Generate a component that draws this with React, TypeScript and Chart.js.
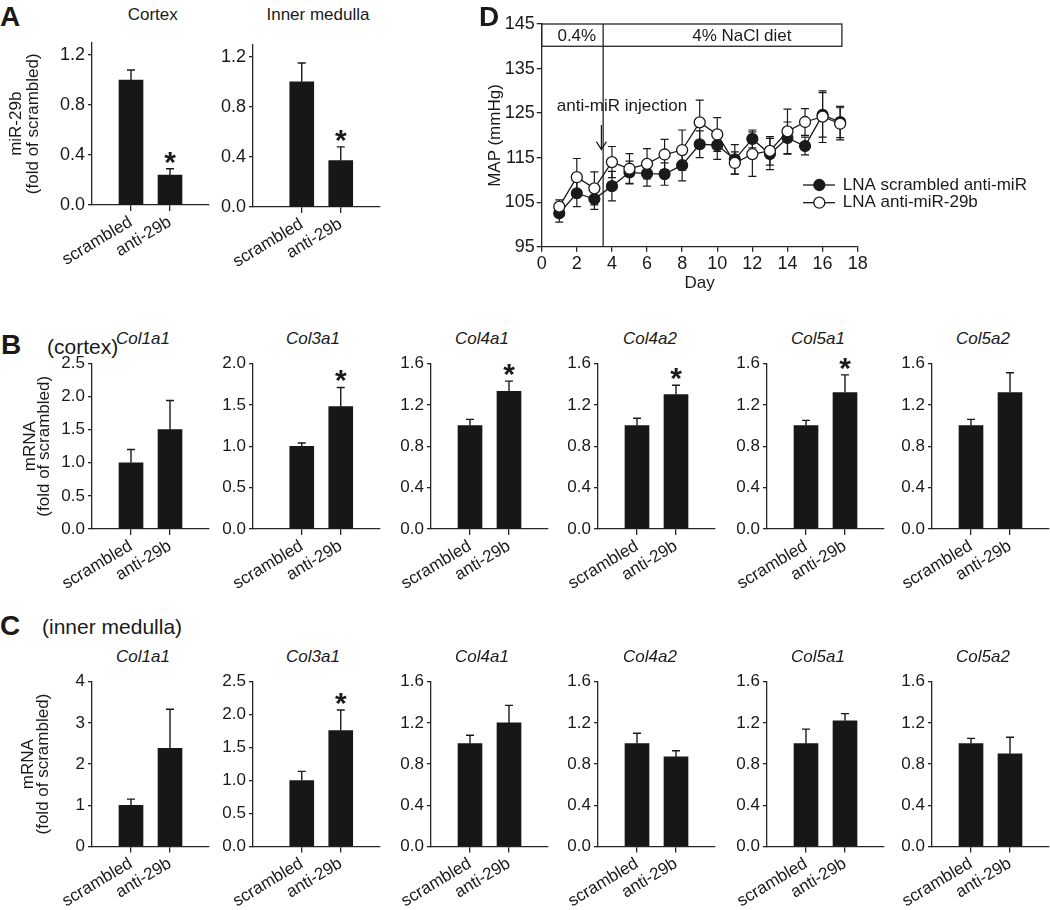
import React, { useEffect, useRef } from 'react';
import { Chart, registerables } from 'chart.js';

Chart.register(...registerables);

const FONT = '"Liberation Sans", Arial, Helvetica, sans-serif';
const INK = '#1a1a1a';
const AXIS = '#262626';
const BAR = '#171717';
Chart.defaults.font.family = FONT;
Chart.defaults.color = INK;

// ---------- data ----------
const GROUPS = ['scrambled', 'anti-29b'];

// Panel A: miR-29b
const A_TITLES = ['Cortex', 'Inner medulla'];
const A_CORTEX_MEAN = [1.0, 0.24];
const A_CORTEX_SEM = [0.08, 0.05];
const A_CORTEX_SIG = [false, true];
const A_IM_MEAN = [1.0, 0.37];
const A_IM_SEM = [0.15, 0.11];
const A_IM_SIG = [false, true];

// Panels B & C: collagen mRNA
const GENES = ['Col1a1', 'Col3a1', 'Col4a1', 'Col4a2', 'Col5a1', 'Col5a2'];
const B_MEAN = [[1.0, 1.50], [1.0, 1.48], [1.0, 1.33], [1.0, 1.30], [1.0, 1.32], [1.0, 1.32]];
const B_SEM = [[0.20, 0.44], [0.04, 0.23], [0.06, 0.10], [0.07, 0.09], [0.05, 0.17], [0.06, 0.19]];
const B_SIG = [[false, false], [false, true], [false, true], [false, true], [false, true], [false, false]];
const B_YMAX = [2.5, 2.0, 1.6, 1.6, 1.6, 1.6];
const B_YSTEP = [0.5, 0.5, 0.4, 0.4, 0.4, 0.4];

const C_MEAN = [[1.0, 2.38], [1.0, 1.76], [1.0, 1.20], [1.0, 0.87], [1.0, 1.22], [1.0, 0.90]];
const C_SEM = [[0.15, 0.95], [0.14, 0.31], [0.08, 0.17], [0.10, 0.06], [0.14, 0.07], [0.05, 0.16]];
const C_SIG = [[false, false], [false, true], [false, false], [false, false], [false, false], [false, false]];
const C_YMAX = [4, 2.5, 1.6, 1.6, 1.6, 1.6];
const C_YSTEP = [1, 0.5, 0.4, 0.4, 0.4, 0.4];

// Panel D: MAP time course
const DAYS = [1, 2, 3, 4, 5, 6, 7, 8, 9, 10, 11, 12, 13, 14, 15, 16, 17];
const MAP_SCR = [102.5, 107.0, 105.7, 108.6, 111.7, 111.4, 111.3, 113.3, 118.0, 117.8, 114.6, 119.2, 115.8, 119.4, 117.6, 124.6, 123.0];
const SEM_SCR = [2.0, 3.0, 2.3, 3.3, 2.5, 2.8, 2.5, 3.5, 3.0, 3.2, 3.3, 2.0, 3.5, 3.6, 2.0, 5.0, 3.5];
const MAP_ANTI = [104.0, 110.6, 108.1, 114.0, 112.5, 113.6, 115.7, 116.7, 122.9, 120.2, 113.8, 115.8, 116.5, 120.9, 123.0, 124.2, 122.6];
const SEM_ANTI = [1.5, 4.2, 3.7, 3.5, 3.4, 3.4, 3.4, 4.5, 5.0, 3.8, 2.5, 5.0, 3.2, 5.0, 3.0, 5.8, 3.6];
const D_LEGEND = ['LNA scrambled anti-miR', 'LNA anti-miR-29b'];
const DIET_LABELS = ['0.4%', '4% NaCl diet'];
const DIET_BREAK = 3.5;
const DIET_END = 17.1;
const DIET_BOX_LOW = 140;
const INJECTION_DAY = 3.4;

// ---------- layout ----------
const X_MAX = 3;
const X_UNIT = 39;
const COL_AXIS = [92, 253, 431, 598, 767, 932];
const COL_XMIN = [0, -0.25, 0, 0, 0, 0];
const COL_TITLE_X = [143, 313, 482, 650, 818, 983];

function T({ x, y, text, size = 17, bold = false, italic = false, align = 'center' }: any) {
  const style: any = {
    position: 'absolute',
    left: x,
    top: y - size / 2,
    height: size,
    lineHeight: `${size}px`,
    fontSize: size,
    fontWeight: bold ? 'bold' : 'normal',
    fontStyle: italic ? 'italic' : 'normal',
    whiteSpace: 'nowrap',
    transform: align === 'center' ? 'translateX(-50%)' : undefined,
  };
  return <div style={style}>{text}</div>;
}

function VText({ x, y, text, size = 17, boxW = 140 }: any) {
  const style: any = {
    position: 'absolute',
    left: x - boxW / 2,
    top: y - size / 2,
    width: boxW,
    height: size,
    lineHeight: `${size}px`,
    fontSize: size,
    textAlign: 'center',
    whiteSpace: 'nowrap',
    transform: 'rotate(-90deg)',
    transformOrigin: '50% 50%',
  };
  return <div style={style}>{text}</div>;
}

function BarPanel({ axisX, top, zero, ymax, ystep, xmin, mean, sem, sig, yTitle, titleSize, titleLH, titlePad, tickSize }: any) {
  const ref = useRef<HTMLCanvasElement>(null);
  const yW = yTitle ? axisX : 50;
  const left = axisX - yW;
  const canvasTop = Math.floor(top - 18);
  const padTop = top - canvasTop;
  const plotW = (X_MAX - xmin) * X_UNIT;
  const plotH = zero - top;
  const xH = 74;
  const W = Math.ceil(yW + plotW + 8);
  const H = Math.ceil(padTop + plotH + xH);
  const dec = ystep < 1 ? 1 : 0;

  useEffect(() => {
    const errPlugin = {
      id: 'errbars',
      afterDatasetsDraw(chart: any) {
        const { ctx, scales } = chart;
        const xs = scales.x;
        const ys = scales.y;
        ctx.save();
        ctx.strokeStyle = INK;
        ctx.fillStyle = INK;
        ctx.lineWidth = 1.4;
        mean.forEach((m: number, i: number) => {
          const px = xs.getPixelForValue(i + 1);
          const y0 = ys.getPixelForValue(m);
          const y1 = ys.getPixelForValue(m + sem[i]);
          ctx.beginPath();
          ctx.moveTo(px, y0);
          ctx.lineTo(px, y1);
          ctx.moveTo(px - 4, y1);
          ctx.lineTo(px + 4, y1);
          ctx.stroke();
          if (sig[i]) {
            ctx.font = `bold 30px ${FONT}`;
            ctx.textAlign = 'center';
            ctx.textBaseline = 'alphabetic';
            ctx.fillText('*', px, y1 + 3);
          }
        });
        ctx.restore();
      },
    };
    const chart = new Chart(ref.current as HTMLCanvasElement, {
      type: 'bar',
      data: {
        datasets: [{
          data: mean.map((v: number, i: number) => ({ x: i + 1, y: v })),
          backgroundColor: BAR,
          borderWidth: 0,
          barThickness: 24,
        }],
      },
      options: {
        responsive: false,
        animation: false,
        devicePixelRatio: 1,
        layout: { padding: { top: padTop, left: 0, right: W - yW - plotW, bottom: H - padTop - plotH - xH } },
        plugins: { legend: { display: false }, tooltip: { enabled: false }, title: { display: false } },
        scales: {
          x: {
            type: 'linear',
            min: xmin,
            max: X_MAX,
            bounds: 'data',
            offset: false,
            afterBuildTicks: (s: any) => { s.ticks = GROUPS.map((_, i) => ({ value: i + 1 })); },
            afterFit: (s: any) => { s.height = xH; },
            grid: { display: true, drawOnChartArea: false, drawTicks: true, tickLength: 6, offset: false, color: AXIS, lineWidth: 1.3 },
            border: { display: true, color: AXIS, width: 1.3 },
            ticks: {
              autoSkip: false, minRotation: 31, maxRotation: 31, padding: 1, color: INK,
              font: { size: 17 },
              callback: (_v: any, i: number) => GROUPS[i],
            },
          },
          y: {
            type: 'linear',
            min: 0,
            max: ymax,
            bounds: 'data',
            afterBuildTicks: (s: any) => {
              s.ticks = s.ticks.filter((t: any) => {
                const q = t.value / ystep;
                return Math.abs(q - Math.round(q)) < 1e-6 && t.value <= ymax + 1e-9;
              });
            },
            afterFit: (s: any) => { s.width = yW; },
            grid: { display: true, drawOnChartArea: false, drawTicks: true, tickLength: 4, color: AXIS, lineWidth: 1.3 },
            border: { display: true, color: AXIS, width: 1.3 },
            ticks: {
              stepSize: ystep, padding: 3, color: INK,
              font: { size: tickSize },
              callback: (v: any) => Number(v).toFixed(dec),
            },
            title: yTitle ? {
              display: true, text: yTitle, color: INK,
              font: { size: titleSize, lineHeight: titleLH },
              padding: { top: titlePad, bottom: 0 },
            } : { display: false },
          },
        },
      } as any,
      plugins: [errPlugin],
    });
    return () => chart.destroy();
  }, []);

  return (
    <canvas
      ref={ref}
      width={W}
      height={H}
      style={{ position: 'absolute', left, top: canvasTop, width: W, height: H }}
    />
  );
}

function MapPanel() {
  const ref = useRef<HTMLCanvasElement>(null);
  const LEFT = 495;
  const W = 545;
  const H = 300;
  const yW = 46.7;
  const plotW = 316;
  const padTop = 24;
  const plotH = 222.7;
  const xH = 47;

  useEffect(() => {
    const deco = {
      id: 'deco',
      beforeDatasetsDraw(chart: any) {
        const { ctx, scales } = chart;
        const xs = scales.x;
        const ys = scales.y;
        ctx.save();
        ctx.strokeStyle = AXIS;
        ctx.lineWidth = 1.3;
        const bx0 = xs.getPixelForValue(0);
        const bx1 = xs.getPixelForValue(DIET_END);
        const by0 = ys.getPixelForValue(145);
        const by1 = ys.getPixelForValue(DIET_BOX_LOW);
        ctx.strokeRect(bx0, by0, bx1 - bx0, by1 - by0);
        const vx = xs.getPixelForValue(DIET_BREAK);
        ctx.beginPath();
        ctx.moveTo(vx, by0);
        ctx.lineTo(vx, ys.getPixelForValue(95));
        ctx.stroke();

        ctx.fillStyle = INK;
        ctx.font = `17px ${FONT}`;
        ctx.textAlign = 'center';
        ctx.textBaseline = 'middle';
        ctx.fillText(DIET_LABELS[0], xs.getPixelForValue(2.0), ys.getPixelForValue(142.3));
        ctx.fillText(DIET_LABELS[1], xs.getPixelForValue(11.4), ys.getPixelForValue(142.3));
        ctx.textAlign = 'left';
        ctx.fillText('anti-miR injection', xs.getPixelForValue(0.86), ys.getPixelForValue(126.6));

        const ax = xs.getPixelForValue(INJECTION_DAY);
        const ay0 = ys.getPixelForValue(122.3);
        const ay1 = ys.getPixelForValue(116.8);
        ctx.strokeStyle = INK;
        ctx.lineWidth = 1.2;
        ctx.beginPath();
        ctx.moveTo(ax, ay0);
        ctx.lineTo(ax, ay1);
        ctx.moveTo(ax - 5, ay1 - 8);
        ctx.lineTo(ax, ay1);
        ctx.lineTo(ax + 5, ay1 - 8);
        ctx.stroke();

        // error bars
        ctx.lineWidth = 1.2;
        const drawErr = (vals: number[], sems: number[]) => {
          vals.forEach((v, i) => {
            const px = xs.getPixelForValue(DAYS[i]);
            const yt = ys.getPixelForValue(v + sems[i]);
            const yb = ys.getPixelForValue(v - sems[i]);
            ctx.beginPath();
            ctx.moveTo(px, yt);
            ctx.lineTo(px, yb);
            ctx.moveTo(px - 4, yt);
            ctx.lineTo(px + 4, yt);
            ctx.moveTo(px - 4, yb);
            ctx.lineTo(px + 4, yb);
            ctx.stroke();
          });
        };
        drawErr(MAP_SCR, SEM_SCR);
        drawErr(MAP_ANTI, SEM_ANTI);
        ctx.restore();
      },
      afterDraw(chart: any) {
        const { ctx } = chart;
        ctx.save();
        const lx0 = 308;
        const lx1 = 340;
        const mx = 324.3;
        const tx = 347.7;
        const rows = [185, 202.7];
        rows.forEach((ry, i) => {
          ctx.strokeStyle = INK;
          ctx.lineWidth = 1.3;
          ctx.beginPath();
          ctx.moveTo(lx0, ry);
          ctx.lineTo(lx1, ry);
          ctx.stroke();
          ctx.beginPath();
          ctx.arc(mx, ry, 5.5, 0, Math.PI * 2);
          ctx.fillStyle = i === 0 ? INK : '#ffffff';
          ctx.fill();
          ctx.stroke();
          ctx.fillStyle = INK;
          ctx.font = `17px ${FONT}`;
          ctx.textAlign = 'left';
          ctx.textBaseline = 'middle';
          ctx.fillText(D_LEGEND[i], tx, ry);
        });
        ctx.restore();
      },
    };

    const chart = new Chart(ref.current as HTMLCanvasElement, {
      type: 'line',
      data: {
        datasets: [
          {
            label: D_LEGEND[0],
            data: DAYS.map((d, i) => ({ x: d, y: MAP_SCR[i] })),
            borderColor: INK,
            borderWidth: 1.3,
            pointRadius: 5.5,
            pointBackgroundColor: INK,
            pointBorderColor: INK,
            pointBorderWidth: 1.2,
            order: 2,
          },
          {
            label: D_LEGEND[1],
            data: DAYS.map((d, i) => ({ x: d, y: MAP_ANTI[i] })),
            borderColor: INK,
            borderWidth: 1.3,
            pointRadius: 5.5,
            pointBackgroundColor: '#ffffff',
            pointBorderColor: INK,
            pointBorderWidth: 1.3,
            order: 1,
          },
        ],
      },
      options: {
        responsive: false,
        animation: false,
        devicePixelRatio: 1,
        layout: { padding: { top: padTop, left: 0, right: W - yW - plotW, bottom: H - padTop - plotH - xH } },
        plugins: { legend: { display: false }, tooltip: { enabled: false } },
        scales: {
          x: {
            type: 'linear', min: 0, max: 18, bounds: 'data',
            afterFit: (s: any) => { s.height = xH; },
            grid: { display: true, drawOnChartArea: false, drawTicks: true, tickLength: 5, color: AXIS, lineWidth: 1.3 },
            border: { display: true, color: AXIS, width: 1.3 },
            ticks: { stepSize: 2, padding: 2, color: INK, font: { size: 18 }, maxRotation: 0 },
            title: { display: true, text: 'Day', color: INK, font: { size: 17, lineHeight: 1.2 }, padding: { top: 0, bottom: 0 } },
          },
          y: {
            type: 'linear', min: 95, max: 145, bounds: 'data',
            afterFit: (s: any) => { s.width = yW; },
            grid: { display: true, drawOnChartArea: false, drawTicks: true, tickLength: 5, color: AXIS, lineWidth: 1.3 },
            border: { display: true, color: AXIS, width: 1.3 },
            ticks: { stepSize: 10, padding: 2, color: INK, font: { size: 18 } },
          },
        },
      } as any,
      plugins: [deco],
    });
    return () => chart.destroy();
  }, []);

  return (
    <canvas
      ref={ref}
      width={W}
      height={H}
      style={{ position: 'absolute', left: LEFT, top: 0, width: W, height: H }}
    />
  );
}

export default function App() {
  const rowB = { top: 363.5, zero: 529, titleY: 338.5 };
  const rowC = { top: 681.7, zero: 846.5, titleY: 656.7 };
  return (
    <div
      style={{
        position: 'absolute', left: 0, top: 0, width: 1050, height: 910,
        background: '#ffffff', overflow: 'hidden', fontFamily: FONT, color: INK,
      }}
    >
      {/* Panel D */}
      <MapPanel />
      <VText x={494} y={135} text="MAP (mmHg)" size={17} />

      {/* Panel letters */}
      <T x={0} y={17} text="A" size={28} bold align="left" />
      <T x={479} y={17} text="D" size={28} bold align="left" />
      <T x={1} y={344.5} text="B" size={28} bold align="left" />
      <T x={47} y={346} text="(cortex)" size={21} align="left" />
      <T x={0} y={626} text="C" size={28} bold align="left" />
      <T x={42} y={626} text="(inner medulla)" size={21} align="left" />

      {/* Panel A */}
      <T x={152.7} y={14} text={A_TITLES[0]} size={17} />
      <T x={318} y={14} text={A_TITLES[1]} size={17} />
      <BarPanel
        axisX={92} top={42.5} zero={205} ymax={1.3} ystep={0.4} xmin={0}
        mean={A_CORTEX_MEAN} sem={A_CORTEX_SEM} sig={A_CORTEX_SIG}
        yTitle={['miR-29b', '(fold of scrambled)']} titleSize={17} titleLH={0.97} titlePad={8.5}
        tickSize={18}
      />
      <BarPanel
        axisX={253} top={44.2} zero={207} ymax={1.3} ystep={0.4} xmin={-0.25}
        mean={A_IM_MEAN} sem={A_IM_SEM} sig={A_IM_SIG}
        tickSize={18}
      />

      {/* Panel B */}
      {GENES.map((g, i) => (
        <T key={'bt' + g} x={COL_TITLE_X[i]} y={rowB.titleY} text={g} size={17} italic />
      ))}
      {GENES.map((g, i) => (
        <BarPanel
          key={'b' + g}
          axisX={COL_AXIS[i]} top={rowB.top} zero={rowB.zero}
          ymax={B_YMAX[i]} ystep={B_YSTEP[i]} xmin={COL_XMIN[i]}
          mean={B_MEAN[i]} sem={B_SEM[i]} sig={B_SIG[i]}
          yTitle={i === 0 ? ['mRNA', '(fold of scrambled)'] : undefined}
          titleSize={17} titleLH={0.85} titlePad={22.8}
          tickSize={17}
        />
      ))}

      {/* Panel C */}
      {GENES.map((g, i) => (
        <T key={'ct' + g} x={COL_TITLE_X[i]} y={rowC.titleY} text={g} size={17} italic />
      ))}
      {GENES.map((g, i) => (
        <BarPanel
          key={'c' + g}
          axisX={COL_AXIS[i]} top={rowC.top} zero={rowC.zero}
          ymax={C_YMAX[i]} ystep={C_YSTEP[i]} xmin={COL_XMIN[i]}
          mean={C_MEAN[i]} sem={C_SEM[i]} sig={C_SIG[i]}
          yTitle={i === 0 ? ['mRNA', '(fold of scrambled)'] : undefined}
          titleSize={17} titleLH={0.85} titlePad={21.3}
          tickSize={17}
        />
      ))}
    </div>
  );
}
